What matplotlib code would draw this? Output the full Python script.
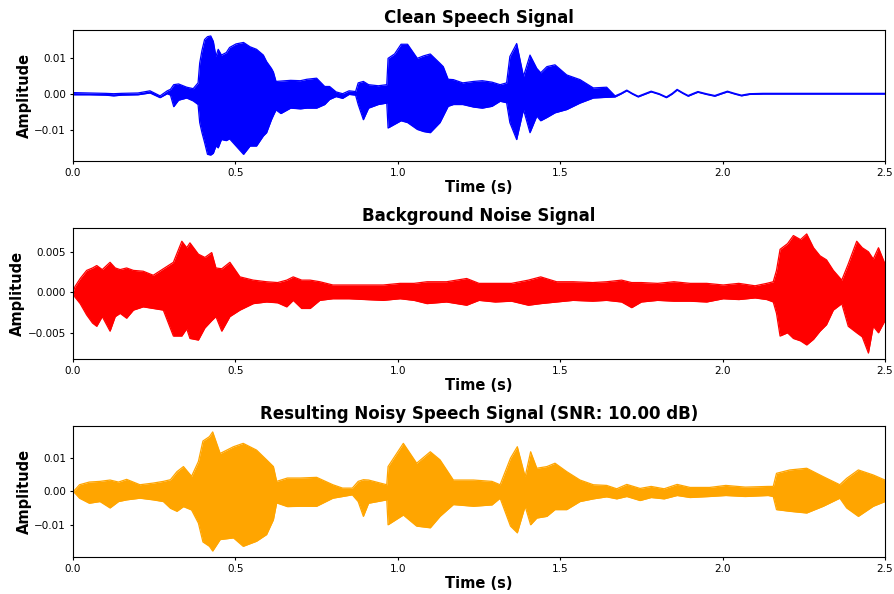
import matplotlib
matplotlib.use("Agg")
import matplotlib.pyplot as plt

# envelope of each waveform: time (s), upper and lower amplitude
clean_t = [0.00, 0.05, 0.10, 0.125, 0.15, 0.20, 0.237, 0.268, 0.29, 0.30, 0.31, 0.325, 0.35, 0.37,
           0.385, 0.39, 0.397, 0.405, 0.414, 0.424, 0.432, 0.44, 0.447, 0.457, 0.472, 0.482, 0.502,
           0.525, 0.545, 0.565, 0.586, 0.596, 0.611, 0.617, 0.625,
           0.64, 0.67, 0.70, 0.72, 0.75, 0.775, 0.79, 0.81, 0.83, 0.85, 0.87, 0.878, 0.894, 0.91,
           0.94, 0.966, 0.97, 0.99, 1.01, 1.03, 1.06, 1.08, 1.10, 1.13, 1.14, 1.155, 1.171, 1.20,
           1.233, 1.26, 1.29, 1.315, 1.335, 1.345, 1.366, 1.387, 1.407, 1.428, 1.44, 1.459, 1.484,
           1.52, 1.561, 1.602, 1.643, 1.669, 1.687, 1.705, 1.722, 1.74, 1.76, 1.78, 1.805, 1.827,
           1.845, 1.86, 1.877, 1.894, 1.91, 1.924, 1.95, 1.976, 1.995, 2.015, 2.037, 2.058, 2.083,
           2.125, 2.5]
clean_hi = [0.0003, 0.0002, 0.0001, 0.0000, 0.0001, 0.0002, 0.0008, -0.0006, 0.0008, 0.0012, 0.0025,
            0.0027, 0.0018, 0.0014, 0.0030, 0.0085, 0.0120, 0.0150, 0.0158, 0.0160, 0.0145, 0.0103,
            0.0123, 0.0107, 0.0114, 0.0128, 0.0138, 0.0142, 0.0130, 0.0123, 0.0107, 0.0089, 0.0070,
            0.0060, 0.0034, 0.0035, 0.0037, 0.0036, 0.0040, 0.0043, 0.0020,
            0.0020, 0.0005, 0.0000, 0.0008, 0.0006, 0.0030, 0.0034, 0.0025, 0.0022, 0.0025, 0.0098,
            0.0110, 0.0137, 0.0137, 0.0098, 0.0105, 0.0110, 0.0084, 0.0075, 0.0040, 0.0039, 0.0030,
            0.0034, 0.0036, 0.0032, 0.0025, 0.0030, 0.0103, 0.0139, 0.0048, 0.0107, 0.0070, 0.0058,
            0.0075, 0.0080, 0.0052, 0.0039, 0.0016, 0.0018, -0.0006, 0.0001, 0.0010, 0.0001, -0.0007,
            0.0000, 0.0007, 0.0000, -0.0009, 0.0001, 0.0012, 0.0003, -0.0005, 0.0001, 0.0006, 0.0000,
            -0.0005, 0.0001, 0.0007, 0.0001, -0.0004, 0.0000, 0.0001, 0.0001]
clean_lo = [-0.0003, -0.0003, -0.0004, -0.0006, -0.0004, -0.0003, 0.0002, -0.0011, 0.0000, -0.0004,
            -0.0036, -0.0018, -0.0012, -0.0020, -0.0030, -0.0080, -0.0108, -0.0135, -0.0168, -0.0170,
            -0.0165, -0.0145, -0.0150, -0.0127, -0.0130, -0.0125, -0.0145, -0.0168, -0.0145, -0.0145,
            -0.0117, -0.0108, -0.0072, -0.0060, -0.0045, -0.0055, -0.0040, -0.0042,
            -0.0040, -0.0040, -0.0030, -0.0016, -0.0008, -0.0013, -0.0002, -0.0004, -0.0030, -0.0072,
            -0.0040, -0.0030, -0.0026, -0.0095, -0.0085, -0.0075, -0.0080, -0.0099, -0.0105, -0.0108,
            -0.0080, -0.0062, -0.0035, -0.0030, -0.0030, -0.0037, -0.0040, -0.0035, -0.0021, -0.0025,
            -0.0080, -0.0127, -0.0044, -0.0108, -0.0062, -0.0075, -0.0066, -0.0053, -0.0044, -0.0026,
            -0.0012, -0.0010, -0.0009, -0.0001, 0.0008, -0.0001, -0.0009, -0.0002, 0.0005, -0.0002,
            -0.0011, -0.0001, 0.0010, 0.0001, -0.0007, -0.0001, 0.0004, -0.0002, -0.0007, -0.0001,
            0.0005, -0.0001, -0.0006, -0.0002, -0.0001, -0.0001]

noise_t = [0.000, 0.006, 0.022, 0.042, 0.06, 0.073, 0.09, 0.114, 0.13, 0.145, 0.165, 0.186, 0.216,
           0.247, 0.278, 0.309, 0.335, 0.35, 0.36, 0.386, 0.406, 0.427, 0.44, 0.458, 0.483, 0.514,
           0.555, 0.596, 0.63, 0.658, 0.678, 0.704, 0.73, 0.76, 0.80, 0.85, 0.90, 0.955, 1.007, 1.05,
           1.09, 1.15, 1.212, 1.25, 1.30, 1.35, 1.402, 1.44, 1.489, 1.54, 1.60, 1.643, 1.689, 1.72,
           1.75, 1.80, 1.85, 1.90, 1.951, 2.002, 2.05, 2.10, 2.136, 2.156, 2.166, 2.177, 2.20, 2.218,
           2.24, 2.259, 2.28, 2.30, 2.32, 2.341, 2.367, 2.387, 2.413, 2.43, 2.449, 2.464, 2.48, 2.50]
noise_hi = [0.0000, 0.0007, 0.0017, 0.0027, 0.0030, 0.0033, 0.0028, 0.0037, 0.0030, 0.0028, 0.0030,
            0.0027, 0.0026, 0.0021, 0.0029, 0.0037, 0.0063, 0.0055, 0.0061, 0.0047, 0.0043, 0.0049,
            0.0030, 0.0029, 0.0037, 0.0019, 0.0015, 0.0013, 0.0012, 0.0015, 0.0019, 0.0015, 0.0015,
            0.0013, 0.0009, 0.0009, 0.0009, 0.0009, 0.0011, 0.0011, 0.0013, 0.0013, 0.0017, 0.0011,
            0.0011, 0.0011, 0.0015, 0.0019, 0.0013, 0.0013, 0.0012, 0.0013, 0.0015, 0.0012, 0.0012,
            0.0011, 0.0013, 0.0011, 0.0011, 0.0009, 0.0011, 0.0008, 0.0011, 0.0013, 0.0027, 0.0053,
            0.0060, 0.0070, 0.0065, 0.0072, 0.0055, 0.0045, 0.0040, 0.0027, 0.0015, 0.0035, 0.0063,
            0.0055, 0.0050, 0.0041, 0.0055, 0.0035]
noise_lo = [0.0000, -0.0006, -0.0014, -0.0028, -0.0038, -0.0042, -0.0030, -0.0048, -0.0030, -0.0026,
            -0.0032, -0.0022, -0.0018, -0.0020, -0.0022, -0.0054, -0.0054, -0.0045, -0.0057, -0.0059,
            -0.0044, -0.0035, -0.0030, -0.0048, -0.0030, -0.0022, -0.0014, -0.0012, -0.0013, -0.0018,
            -0.0010, -0.0020, -0.0020, -0.0010, -0.0008, -0.0008, -0.0009, -0.0010, -0.0008, -0.0010,
            -0.0014, -0.0012, -0.0016, -0.0010, -0.0012, -0.0011, -0.0016, -0.0014, -0.0012, -0.0010,
            -0.0011, -0.0010, -0.0012, -0.0019, -0.0012, -0.0010, -0.0011, -0.0011, -0.0012, -0.0008,
            -0.0009, -0.0007, -0.0009, -0.0012, -0.0026, -0.0054, -0.0050, -0.0057, -0.0060, -0.0065,
            -0.0058, -0.0048, -0.0040, -0.0022, -0.0014, -0.0042, -0.0050, -0.0055, -0.0075, -0.0042,
            -0.0050, -0.0035]

noisy_t = [0.000, 0.006, 0.02, 0.05, 0.083, 0.114, 0.14, 0.165, 0.206, 0.247, 0.278, 0.30, 0.32,
           0.34, 0.365, 0.386, 0.40, 0.42, 0.43, 0.453, 0.494, 0.524, 0.565, 0.596, 0.617, 0.627,
           0.66, 0.70, 0.75, 0.80, 0.83, 0.86, 0.878, 0.894, 0.91, 0.966, 0.97, 1.017, 1.058, 1.10,
           1.13, 1.171, 1.233, 1.29, 1.315, 1.347, 1.368, 1.392, 1.409, 1.428, 1.459, 1.484, 1.52,
           1.561, 1.602, 1.643, 1.674, 1.705, 1.746, 1.78, 1.82, 1.86, 1.90, 1.96, 2.01, 2.07,
           2.14, 2.156, 2.166, 2.207, 2.259, 2.31, 2.361, 2.382, 2.418, 2.464, 2.50]
noisy_hi = [0.0000, 0.0005, 0.0020, 0.0028, 0.0030, 0.0034, 0.0028, 0.0036, 0.0020, 0.0025, 0.0030,
            0.0035, 0.0059, 0.0074, 0.0045, 0.0089, 0.0150, 0.0163, 0.0177, 0.0113, 0.0133, 0.0143,
            0.0123, 0.0094, 0.0074, 0.0030, 0.0040, 0.0040, 0.0042, 0.0020, 0.0010, 0.0010, 0.0030,
            0.0035, 0.0034, 0.0020, 0.0074, 0.0143, 0.0084, 0.0118, 0.0094, 0.0034, 0.0034, 0.0030,
            0.0020, 0.0099, 0.0133, 0.0044, 0.0118, 0.0069, 0.0074, 0.0084, 0.0059, 0.0034, 0.0020,
            0.0018, 0.0008, 0.0021, 0.0009, 0.0015, 0.0008, 0.0021, 0.0012, 0.0012, 0.0018, 0.0013,
            0.0015, 0.0015, 0.0054, 0.0064, 0.0069, 0.0044, 0.0020, 0.0039, 0.0064, 0.0049, 0.0034]
noisy_lo = [0.0000, -0.0005, -0.0020, -0.0035, -0.0030, -0.0049, -0.0030, -0.0025, -0.0020, -0.0025,
            -0.0030, -0.0050, -0.0059, -0.0045, -0.0055, -0.0094, -0.0150, -0.0163, -0.0177, -0.0143,
            -0.0138, -0.0163, -0.0148, -0.0128, -0.0084, -0.0034, -0.0045, -0.0044, -0.0044, -0.0020,
            -0.0015, -0.0010, -0.0030, -0.0074, -0.0035, -0.0025, -0.0099, -0.0070, -0.0103, -0.0108,
            -0.0074, -0.0039, -0.0044, -0.0040, -0.0020, -0.0103, -0.0123, -0.0044, -0.0099, -0.0079,
            -0.0074, -0.0054, -0.0054, -0.0030, -0.0022, -0.0016, -0.0022, -0.0015, -0.0027, -0.0018,
            -0.0022, -0.0012, -0.0018, -0.0015, -0.0012, -0.0015, -0.0012, -0.0015, -0.0054, -0.0059,
            -0.0064, -0.0044, -0.0020, -0.0049, -0.0074, -0.0044, -0.0030]

titles = ["Clean Speech Signal", "Background Noise Signal",
          "Resulting Noisy Speech Signal (SNR: 10.00 dB)"]
colors = ["blue", "red", "orange"]
series = [(clean_t, clean_hi, clean_lo), (noise_t, noise_hi, noise_lo), (noisy_t, noisy_hi, noisy_lo)]

fig, axes = plt.subplots(3, 1, figsize=(8.95, 5.94), dpi=100)
fig.subplots_adjust(left=0.0816, right=0.9888, top=0.9495, bottom=0.0623, hspace=0.511)

for ax, (t, hi, lo), title, c in zip(axes, series, titles, colors):
    ax.fill_between(t, lo, hi, color=c, linewidth=0)
    ax.plot(t, hi, color=c, linewidth=0.9)
    ax.plot(t, lo, color=c, linewidth=0.9)
    ax.set_xlim(0, 2.5)
    ax.set_title(title, fontsize=12, fontweight="bold", pad=5)
    ax.set_xlabel("Time (s)", fontsize=10.5, fontweight="bold", labelpad=1.5)
    ax.set_ylabel("Amplitude", fontsize=10.5, fontweight="bold", labelpad=2)
    ax.tick_params(labelsize=7.5, length=2.5, pad=2.5)

fig.savefig("out.png", dpi=100)
